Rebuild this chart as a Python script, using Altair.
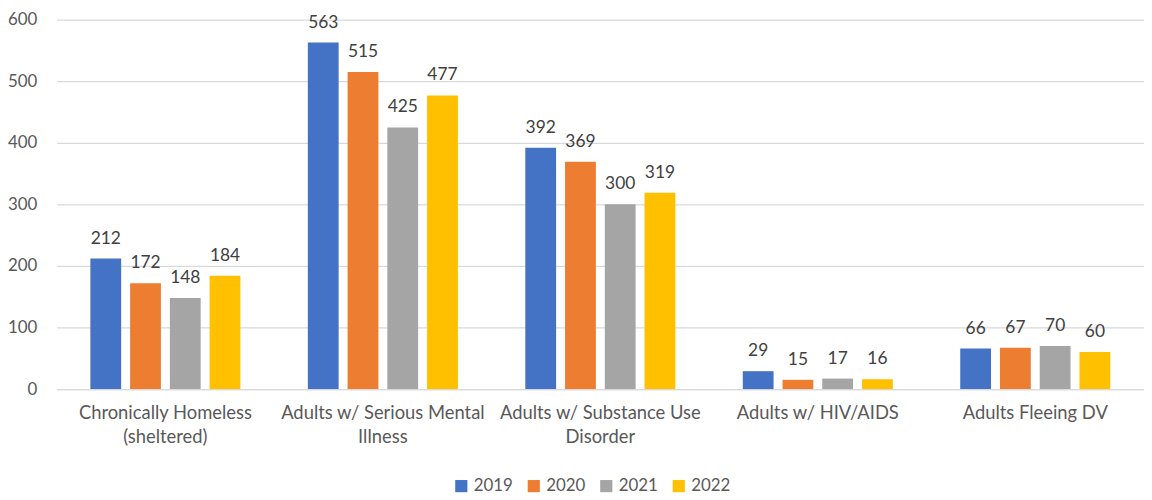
import altair as alt
import pandas as pd
import json

categories = ["Chronically Homeless (sheltered)", "Adults w/ Serious Mental Illness",
              "Adults w/ Substance Use Disorder", "Adults w/ HIV/AIDS", "Adults Fleeing DV"]
label_lines = [["Chronically Homeless", "(sheltered)"], ["Adults w/ Serious Mental", "Illness"],
               ["Adults w/ Substance Use", "Disorder"], ["Adults w/ HIV/AIDS"], ["Adults Fleeing DV"]]
years = ["2019", "2020", "2021", "2022"]
v2019 = [212, 563, 392, 29, 66]
v2020 = [172, 515, 369, 15, 67]
v2021 = [148, 425, 300, 17, 70]
v2022 = [184, 477, 319, 16, 60]
colors = ["#4472C4", "#ED7D31", "#A5A5A5", "#FFC000"]

rows = []
for y, vals in zip(years, [v2019, v2020, v2021, v2022]):
    for c, v in zip(categories, vals):
        rows.append({"category": c, "year": y, "value": v})
df = pd.DataFrame(rows)

label_map = json.dumps(dict(zip(categories, label_lines)))
FONT = "Lato"

base = alt.Chart(df).encode(
    x=alt.X("category:N", sort=categories, title=None,
            scale=alt.Scale(paddingInner=0.31, paddingOuter=0.155),
            axis=alt.Axis(labelAngle=0, labelExpr=f"{label_map}[datum.label]",
                          labelFontSize=18.5, labelColor="#595959", labelFont=FONT,
                          labelPadding=15, labelLineHeight=24, ticks=False, labelLimit=400,
                          domainColor="#D9D9D9", domainWidth=1.3, labelBaseline="top")),
    xOffset=alt.XOffset("year:N", sort=years,
                        scale=alt.Scale(paddingInner=0.225, paddingOuter=0)),
    y=alt.Y("value:Q", title=None,
            scale=alt.Scale(domain=[0, 600], nice=False),
            axis=alt.Axis(values=[0, 100, 200, 300, 400, 500, 600], grid=True,
                          gridColor="#D9D9D9", gridWidth=1.3, domain=False, ticks=False,
                          labelFontSize=17, labelColor="#595959", labelFont=FONT,
                          labelPadding=20)),
)

bars = base.mark_bar().encode(
    color=alt.Color("year:N", sort=years, title=None,
                    scale=alt.Scale(domain=years, range=colors),
                    legend=alt.Legend(orient="none", direction="horizontal",
                                      legendX=399, legendY=461, symbolType="square",
                                      symbolSize=150, symbolStrokeWidth=0,
                                      labelFontSize=17, labelColor="#595959",
                                      labelFont=FONT, columnPadding=12, labelOffset=4))
)

texts = base.mark_text(baseline="alphabetic", dy=-15, fontSize=17.5, font=FONT,
                       color="#404040").encode(text="value:Q")

chart = (bars + texts).properties(
    width=1095, height=372,
    autosize=alt.AutoSizeParams(type="none"),
    padding={"left": 49, "top": 10, "right": 0, "bottom": 110},
).configure_view(stroke=None)

chart.save("out.html", embed_options={"renderer": "svg", "actions": False})
